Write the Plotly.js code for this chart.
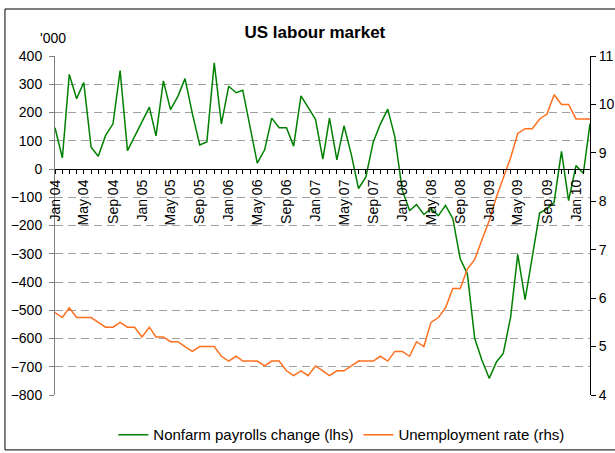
<!DOCTYPE html>
<html><head><meta charset="utf-8">
<script src="https://cdn.plot.ly/plotly-3.0.1.min.js"></script>
<style>html,body{margin:0;padding:0;background:#fff}#chart{width:615px;height:453px}</style>
</head><body><div id="chart"></div>
<script>
const months = [
 '2004-01','2004-02','2004-03','2004-04','2004-05','2004-06','2004-07','2004-08','2004-09','2004-10','2004-11','2004-12',
 '2005-01','2005-02','2005-03','2005-04','2005-05','2005-06','2005-07','2005-08','2005-09','2005-10','2005-11','2005-12',
 '2006-01','2006-02','2006-03','2006-04','2006-05','2006-06','2006-07','2006-08','2006-09','2006-10','2006-11','2006-12',
 '2007-01','2007-02','2007-03','2007-04','2007-05','2007-06','2007-07','2007-08','2007-09','2007-10','2007-11','2007-12',
 '2008-01','2008-02','2008-03','2008-04','2008-05','2008-06','2008-07','2008-08','2008-09','2008-10','2008-11','2008-12',
 '2009-01','2009-02','2009-03','2009-04','2009-05','2009-06','2009-07','2009-08','2009-09','2009-10','2009-11','2009-12',
 '2010-01','2010-02','2010-03'
];
const payrolls = [
 146,39,335,249,306,77,45,119,160,348,65,115,
 170,219,117,312,210,257,320,196,85,96,376,160,
 293,270,279,151,21,68,180,146,146,81,259,218,
 176,35,180,32,153,50,-69,-28,96,159,212,114,
 -75,-147,-126,-161,-141,-165,-129,-176,-318,-371,-600,-676,
 -741,-682,-653,-524,-302,-462,-313,-156,-141,-118,62,-112,
 12,-15,161
];
const unemployment = [
 5.7,5.6,5.8,5.6,5.6,5.6,5.5,5.4,5.4,5.5,5.4,5.4,
 5.2,5.4,5.2,5.2,5.1,5.1,5.0,4.9,5.0,5.0,5.0,4.8,
 4.7,4.8,4.7,4.7,4.7,4.6,4.7,4.7,4.5,4.4,4.5,4.4,
 4.6,4.5,4.4,4.5,4.5,4.6,4.7,4.7,4.7,4.8,4.7,4.9,
 4.9,4.8,5.1,5.0,5.5,5.6,5.8,6.2,6.2,6.6,6.8,7.2,
 7.6,8.1,8.5,8.9,9.4,9.5,9.5,9.7,9.8,10.2,10.0,10.0,
 9.7,9.7,9.7
];
const seriesNames = ['Nonfarm payrolls change (lhs)', 'Unemployment rate (rhs)'];
const chartTitle = 'US labour market';
const leftUnit = "'000";

const FONT = 'Liberation Sans, Arial, sans-serif';

const traces = [
  {x: months, y: payrolls, name: seriesNames[0], type: 'scatter', mode: 'lines',
   line: {color: '#008000', width: 1.5}, yaxis: 'y'},
  {x: months, y: unemployment, name: seriesNames[1], type: 'scatter', mode: 'lines',
   line: {color: '#ff6f1e', width: 1.5}, yaxis: 'y2'}
];

const layout = {
  width: 615, height: 453,
  margin: {l: 55, r: 25, t: 56, b: 58, autoexpand: false},
  paper_bgcolor: '#fff', plot_bgcolor: '#fff',
  font: {family: FONT, size: 14, color: '#000'},
  title: {text: '<b>' + chartTitle + '</b>', font: {family: FONT, size: 17, color: '#000'},
          x: 0.512, xref: 'container', xanchor: 'center', y: 0.929, yref: 'container', yanchor: 'middle'},
  showlegend: true,
  legend: {orientation: 'h', x: 0.555, xref: 'container', xanchor: 'center',
           y: 0.04, yref: 'container', yanchor: 'middle',
           font: {family: FONT, size: 15, color: '#000'}, bgcolor: 'rgba(0,0,0,0)'},
  xaxis: {
    type: 'date', range: ['2004-01-01', '2010-03-01'],
    anchor: 'free', position: 0.6667,
    showline: true, linecolor: '#000', linewidth: 1,
    tick0: '2004-01-01', dtick: 'M4', tickformat: '%b %y', tickangle: -90,
    ticks: 'outside', ticklen: 4, tickcolor: '#000',
    minor: {dtick: 'M1', ticks: 'outside', ticklen: 4, tickcolor: '#000', showgrid: false},
    showgrid: false, zeroline: false,
    tickfont: {family: FONT, size: 14, color: '#000'}
  },
  yaxis: {
    range: [-800, 400], dtick: 100, tick0: 0,
    showline: true, linecolor: '#808080', linewidth: 1,
    ticks: 'outside', ticklen: 5, tickcolor: '#808080',
    showgrid: true, gridcolor: '#a0a0a0', griddash: '8px,5px', gridwidth: 1,
    zeroline: false, ticklabelstandoff: 4,
    tickfont: {family: FONT, size: 14, color: '#000'}
  },
  yaxis2: {
    range: [4, 11], dtick: 1, overlaying: 'y', side: 'right',
    showline: true, linecolor: '#000', linewidth: 1,
    ticks: 'outside', ticklen: 5, tickcolor: '#000',
    showgrid: false, zeroline: false,
    tickfont: {family: FONT, size: 14, color: '#000'}
  },
  annotations: [
    {text: leftUnit, xref: 'paper', yref: 'paper', x: -0.004, y: 1.053,
     xanchor: 'center', yanchor: 'middle', showarrow: false,
     font: {family: FONT, size: 14, color: '#000'}}
  ],
  shapes: [
    {type: 'rect', xref: 'paper', yref: 'paper', x0: -0.0935, x1: 1.05, y0: -0.162, y1: 1.1386,
     line: {color: '#000', width: 1}, fillcolor: 'rgba(0,0,0,0)', layer: 'above'}
  ]
};

Plotly.newPlot('chart', traces, layout, {displayModeBar: false, staticPlot: true});
</script>
</body></html>
